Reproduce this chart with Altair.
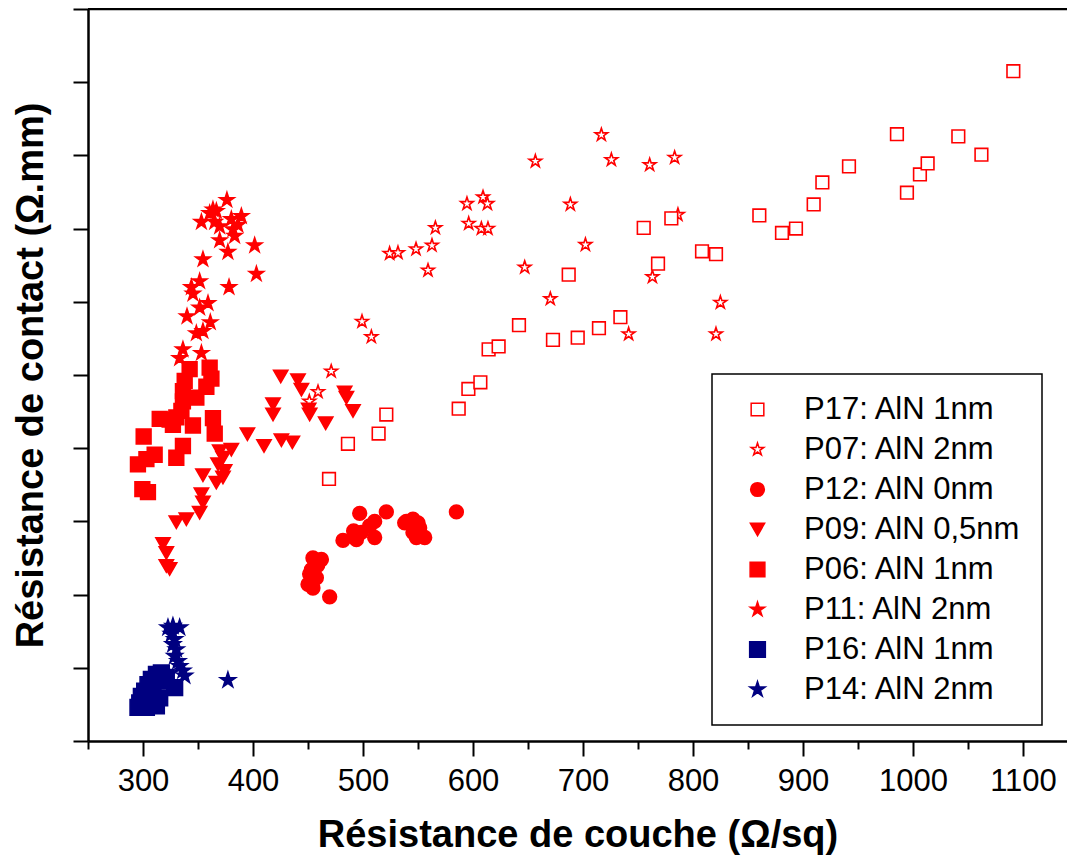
import altair as alt
import pandas as pd

# ---- data (x: sheet resistance, y: contact resistance) ----
p17_x = [469.1, 486.3, 514.2, 521.2, 587.0, 595.8, 606.7, 614.2, 623.3, 641.8, 672.7, 695.2, 714.5, 734.0, 687.0, 755.2, 768.2, 780.3, 808.2, 820.9, 860.3, 880.9, 893.6, 909.7, 917.6, 941.8, 994.5, 1006.3, 1013.3, 985.4, 1041.2, 1062.2, 1091.2]
p17_y = [0.358, 0.406, 0.420, 0.446, 0.454, 0.481, 0.490, 0.535, 0.539, 0.568, 0.548, 0.551, 0.564, 0.579, 0.637, 0.701, 0.652, 0.714, 0.669, 0.665, 0.718, 0.694, 0.700, 0.733, 0.763, 0.785, 0.749, 0.774, 0.789, 0.829, 0.826, 0.801, 0.915]

p07_x = [524.2, 531.8, 548.2, 562.7, 565.8, 559.1, 594.5, 609.1, 613.1, 596.1, 607.6, 613.6, 656.7, 716.7, 725.8, 760.6, 783.3, 688.5, 702.2, 647.0, 763.1, 786.3, 670.3, 741.5, 824.9, 820.9, 499.1, 507.6, 471.1, 459.1, 451.2]
p07_y = [0.666, 0.667, 0.672, 0.677, 0.701, 0.643, 0.734, 0.743, 0.734, 0.707, 0.700, 0.700, 0.792, 0.828, 0.794, 0.787, 0.797, 0.733, 0.678, 0.647, 0.634, 0.719, 0.604, 0.556, 0.599, 0.556, 0.573, 0.552, 0.505, 0.477, 0.464]

p12_x = [497.0, 521.2, 584.9, 510.6, 506.1, 491.5, 498.5, 481.8, 494.0, 510.6, 539.4, 545.4, 550.0, 551.5, 545.4, 556.1, 548.5, 537.9, 454.5, 462.2, 453.1, 457.6, 450.0, 454.5, 469.7, 458.8, 451.5]
p12_y = [0.311, 0.313, 0.313, 0.300, 0.294, 0.287, 0.285, 0.274, 0.275, 0.278, 0.300, 0.303, 0.298, 0.291, 0.285, 0.278, 0.278, 0.298, 0.250, 0.248, 0.234, 0.223, 0.214, 0.209, 0.197, 0.240, 0.228]

p09_x = [425.2, 440.9, 444.0, 418.2, 418.2, 450.6, 451.5, 466.1, 483.3, 484.9, 490.9, 394.9, 410.0, 425.8, 435.8, 380.3, 369.7, 372.7, 368.2, 374.2, 372.7, 354.5, 366.7, 353.1, 354.5, 351.5, 339.4, 330.3, 318.2, 321.2, 321.2, 324.2]
p09_y = [0.498, 0.493, 0.480, 0.460, 0.446, 0.453, 0.446, 0.434, 0.476, 0.469, 0.451, 0.419, 0.403, 0.411, 0.408, 0.398, 0.396, 0.387, 0.378, 0.369, 0.360, 0.363, 0.353, 0.337, 0.326, 0.312, 0.303, 0.299, 0.269, 0.257, 0.239, 0.235]

p06_x = [342.4, 360.6, 362.2, 357.6, 337.9, 336.3, 348.5, 336.3, 334.9, 330.3, 315.2, 324.2, 327.2, 345.4, 363.6, 365.2, 300.6, 336.3, 330.3, 310.6, 303.1, 295.4, 299.4, 304.5]
p06_y = [0.508, 0.510, 0.495, 0.484, 0.492, 0.478, 0.469, 0.464, 0.451, 0.442, 0.440, 0.439, 0.432, 0.431, 0.441, 0.420, 0.416, 0.403, 0.387, 0.391, 0.385, 0.378, 0.344, 0.340]

p11_x = [376.3, 363.6, 366.7, 360.6, 353.1, 365.2, 369.7, 380.3, 389.4, 386.3, 381.8, 383.3, 369.7, 377.2, 401.5, 403.1, 354.5, 351.5, 344.0, 345.4, 378.2, 359.1, 351.5, 340.0, 361.2, 354.5, 348.5, 336.3, 333.3, 353.1]
p11_y = [0.739, 0.726, 0.724, 0.721, 0.709, 0.709, 0.703, 0.713, 0.717, 0.705, 0.699, 0.690, 0.684, 0.668, 0.677, 0.638, 0.658, 0.628, 0.620, 0.611, 0.620, 0.598, 0.592, 0.580, 0.572, 0.560, 0.557, 0.535, 0.523, 0.530]

p16_x = [295.4, 297.0, 298.5, 301.5, 304.5, 307.6, 312.2, 316.7, 321.2, 306.1, 312.2, 303.1, 328.8, 315.2, 309.1, 318.2]
p16_y = [0.046, 0.052, 0.061, 0.068, 0.077, 0.084, 0.091, 0.093, 0.087, 0.057, 0.048, 0.046, 0.073, 0.059, 0.071, 0.082]

p14_x = [327.2, 322.7, 333.3, 325.8, 328.8, 327.2, 330.3, 328.8, 331.8, 333.3, 336.3, 337.9, 377.2]
p14_y = [0.157, 0.155, 0.155, 0.146, 0.139, 0.132, 0.125, 0.116, 0.109, 0.102, 0.096, 0.089, 0.083]

series_names = ["P17: AlN 1nm", "P07: AlN 2nm", "P12: AlN 0nm", "P09: AlN 0,5nm",
                "P06: AlN 1nm", "P11: AlN 2nm", "P16: AlN 1nm", "P14: AlN 2nm"]
series_data = [(p17_x, p17_y), (p07_x, p07_y), (p12_x, p12_y), (p09_x, p09_y),
               (p06_x, p06_y), (p11_x, p11_y), (p16_x, p16_y), (p14_x, p14_y)]

x_ticks = [250, 300, 350, 400, 450, 500, 550, 600, 650, 700, 750, 800, 850, 900, 950, 1000, 1050, 1100]
y_ticks = [0.0, 0.05, 0.1, 0.15, 0.2, 0.25, 0.3, 0.35, 0.4, 0.45, 0.5, 0.55, 0.6, 0.65, 0.7, 0.75, 0.8, 0.85, 0.9, 0.95, 1.0]

# ---- styling ----
RED = "#ff0000"
NAVY = "#000080"
STAR = "M0,-1L0.2245,-0.309L0.951,-0.309L0.363,0.118L0.588,0.809L0,0.382L-0.588,0.809L-0.363,0.118L-0.951,-0.309L-0.2245,-0.309Z"
shapes = ["square", STAR, "circle", "triangle-down", "square", STAR, "square", STAR]
sizes = [160, 260, 170, 300, 150, 290, 95, 220]
fills = ["white", "white", RED, RED, RED, RED, NAVY, NAVY]
strokes = [RED, RED, RED, RED, RED, RED, NAVY, NAVY]

rows = []
order = [1, 0, 2, 3, 4, 5, 6, 7]
for i in order:
    xs, ys = series_data[i]
    for xv, yv in zip(xs, ys):
        rows.append({"Rs": xv, "Rc": yv, "serie": series_names[i]})
df = pd.DataFrame(rows)

FONT = "Liberation Sans"

x_enc = alt.X(
    "Rs:Q",
    scale=alt.Scale(domain=[250, 1140], nice=False, zero=False),
    axis=alt.Axis(
        title="Résistance de couche (Ω/sq)",
        values=x_ticks,
        format="d",
        labelExpr="datum.value % 100 === 0 ? datum.label : ''",
        labelOverlap=False,
        grid=False,
        tickSize={"condition": {"test": "datum.value % 100 === 0", "value": 15}, "value": 8},
        tickWidth=2,
        tickColor="black",
        domainColor="black",
        domainWidth=2.5,
        labelFont=FONT,
        labelFontSize=31,
        labelColor="black",
        labelPadding=10,
        titleFont=FONT,
        titleFontSize=38,
        titleFontWeight="bold",
        titleColor="black",
        titlePadding=20,
    ),
)
y_enc = alt.Y(
    "Rc:Q",
    scale=alt.Scale(domain=[0, 1.0], nice=False, zero=False),
    axis=alt.Axis(
        title="Résistance de contact (Ω.mm)",
        values=y_ticks,
        labels=False,
        grid=False,
        tickSize={"condition": {"test": "round(datum.value * 20) % 2 === 0", "value": 15}, "value": 8},
        tickWidth=2,
        tickColor="black",
        domainColor="black",
        domainWidth=2.5,
        titleFont=FONT,
        titleFontSize=38,
        titleFontWeight="bold",
        titleColor="black",
        titlePadding=22,
    ),
)

legend = alt.Legend(
    title=None,
    orient="none",
    legendX=624,
    legendY=365,
    direction="vertical",
    labelFont=FONT,
    labelFontSize=31,
    labelColor="black",
    labelLimit=400,
    symbolOffset=10,
    labelOffset=31,
    rowPadding=8,
    padding=20,
    strokeColor="black",
    fillColor="white",
)

points = alt.Chart(df).mark_point(opacity=1, strokeWidth=1.6).encode(
    x=x_enc,
    y=y_enc,
    shape=alt.Shape("serie:N", scale=alt.Scale(domain=series_names, range=shapes), legend=legend),
    size=alt.Size("serie:N", scale=alt.Scale(domain=series_names, range=sizes), legend=legend),
    fill=alt.Fill("serie:N", scale=alt.Scale(domain=series_names, range=fills), legend=legend),
    stroke=alt.Stroke("serie:N", scale=alt.Scale(domain=series_names, range=strokes), legend=legend),
)

top_frame = alt.Chart(pd.DataFrame({"top": [1.0]})).mark_rule(color="black", strokeWidth=2.5).encode(
    y=alt.Y("top:Q")
)

chart = alt.layer(points, top_frame).properties(
    width=979,
    height=732,
    autosize=alt.AutoSizeParams(type="none"),
    padding={"left": 80, "top": 1, "right": 0, "bottom": 117},
).configure_view(stroke=None).configure_legend(strokeWidth=1.5)

chart.save("out.html", embed_options={"renderer": "svg", "actions": False})
